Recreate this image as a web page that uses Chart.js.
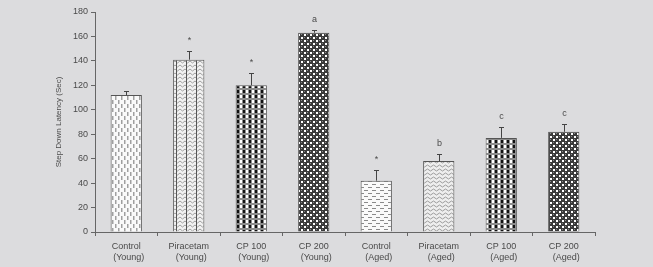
<!DOCTYPE html>
<html>
<head>
<meta charset="utf-8">
<script src="https://cdn.jsdelivr.net/npm/chart.js@4.4.0/dist/chart.umd.min.js"></script>
<style>
    html, body { margin: 0; padding: 0; background: #dcdcde; }
    #wrap { width: 653px; height: 267px; }
</style>
</head>
<body>
<div id="wrap"><canvas id="chart" width="653" height="267"></canvas></div>
<script>
// Data
const groups = [['Control', '  (Young)'], ['Piracetam', '  (Young)'], ['CP 100', '  (Young)'], ['CP 200', '  (Young)'],
                ['Control', '  (Aged)'], ['Piracetam', '  (Aged)'], ['CP 100', '  (Aged)'], ['CP 200', '  (Aged)']];
const latency = [112, 141, 120, 163, 42, 58, 77, 82];
const errorUp = [3, 7, 10, 2, 9, 6, 9, 6];
const marks = ['', '*', '*', 'a', '*', 'b', 'c', 'c'];
const yTicks = [0, 20, 40, 60, 80, 100, 120, 140, 160, 180];

const textColor = '#4a4a4a';
const fontFamily = '"Liberation Sans", Arial, sans-serif';

// Fill patterns
function makePattern(w, h, draw) {
    const c = document.createElement('canvas');
    c.width = w; c.height = h;
    const g = c.getContext('2d');
    draw(g);
    return g.createPattern(c, 'repeat');
}

const dashesV = makePattern(6, 8, g => {
    g.fillStyle = '#fafafa'; g.fillRect(0, 0, 6, 8);
    g.fillStyle = '#a0a0a0';
    g.fillRect(1, 0, 1.5, 4);
    g.fillRect(4, 4, 1.5, 4);
});

const zigzag = makePattern(10, 4, g => {
    g.fillStyle = '#f2f2f2'; g.fillRect(0, 0, 10, 4);
    g.strokeStyle = '#a0a0a0'; g.lineWidth = 1;
    g.beginPath();
    g.moveTo(0, 1); g.lineTo(2.5, 3); g.lineTo(5, 1); g.lineTo(7.5, 3); g.lineTo(10, 1);
    g.stroke();
    g.fillStyle = '#555';
    g.fillRect(6, 0, 1, 4);
});

const checker = makePattern(6, 5, g => {
    g.fillStyle = '#8c8c8c'; g.fillRect(0, 0, 6, 5);
    g.fillStyle = '#ffffff'; g.fillRect(0, 0, 2, 3);
    g.fillStyle = '#111111'; g.fillRect(3, 0, 2, 3);
});

const dots = makePattern(6, 6, g => {
    g.fillStyle = '#3a3a3a'; g.fillRect(0, 0, 6, 6);
    g.fillStyle = '#ffffff';
    g.fillRect(1, 1, 2, 2);
    g.fillRect(4, 4, 2, 2);
    g.fillStyle = '#888';
    g.fillRect(4, 1, 1, 1);
    g.fillRect(1, 4, 1, 1);
});

const dashesH = makePattern(8, 6, g => {
    g.fillStyle = '#fafafa'; g.fillRect(0, 0, 8, 6);
    g.fillStyle = '#8a8a8a';
    g.fillRect(0, 1, 4, 1);
    g.fillRect(4, 4, 4, 1);
});

const waves = makePattern(6, 4, g => {
    g.fillStyle = '#eeeeee'; g.fillRect(0, 0, 6, 4);
    g.strokeStyle = '#9c9c9c'; g.lineWidth = 1;
    g.beginPath();
    g.moveTo(0, 2); g.quadraticCurveTo(1.5, 0, 3, 2); g.quadraticCurveTo(4.5, 4, 6, 2);
    g.stroke();
});

const fills = [dashesV, zigzag, checker, dots, dashesH, waves, checker, dots];

// Error bars and letters above the bars
const errorBars = {
    id: 'errorBars',
    afterDatasetsDraw(chart) {
        const ctx = chart.ctx;
        const x = chart.scales.x, y = chart.scales.y;
        ctx.save();
        ctx.strokeStyle = '#444';
        ctx.lineWidth = 1;
        ctx.fillStyle = textColor;
        ctx.font = '9px ' + fontFamily;
        ctx.textAlign = 'center';
        latency.forEach((v, i) => {
            const px = Math.round(x.getPixelForValue(i)) + 0.5;
            const top = Math.round(y.getPixelForValue(v + errorUp[i])) + 0.5;
            ctx.beginPath();
            ctx.moveTo(px, y.getPixelForValue(v));
            ctx.lineTo(px, top);
            ctx.moveTo(px - 2.5, top);
            ctx.lineTo(px + 2.5, top);
            ctx.stroke();
            if (marks[i]) {
                ctx.textBaseline = 'bottom';
                ctx.fillText(marks[i], px, top - 6);
            }
        });
        ctx.restore();
    }
};

new Chart(document.getElementById('chart'), {
    type: 'bar',
    data: {
        labels: groups,
        datasets: [{
            data: latency,
            backgroundColor: fills,
            borderColor: '#555',
            borderWidth: 1,
            barPercentage: 0.5,
            categoryPercentage: 1
        }]
    },
    options: {
        responsive: false,
        animation: false,
        layout: { padding: { left: 54, right: 58, top: 12, bottom: 0 } },
        plugins: { legend: { display: false }, tooltip: { enabled: false } },
        scales: {
            x: {
                offset: true,
                grid: { offset: true, drawOnChartArea: false, drawTicks: true, tickLength: 4, color: '#666' },
                border: { color: '#666' },
                ticks: { color: textColor, font: { size: 9, family: fontFamily }, maxRotation: 0, padding: 5 },
                afterFit(scale) { scale.height = 35; }
            },
            y: {
                min: 0,
                max: 180,
                afterBuildTicks(scale) { scale.ticks = yTicks.map(v => ({ value: v })); },
                grid: { drawOnChartArea: false, drawTicks: true, tickLength: 4, color: '#666' },
                border: { color: '#666' },
                ticks: { color: textColor, font: { size: 9, family: fontFamily }, padding: 3 },
                title: {
                    display: true,
                    text: 'Step Down Latency (Sec)',
                    color: textColor,
                    font: { size: 8, family: fontFamily },
                    padding: 0
                },
                afterFit(scale) { scale.width = 41; }
            }
        }
    },
    plugins: [errorBars]
});
</script>
</body>
</html>
